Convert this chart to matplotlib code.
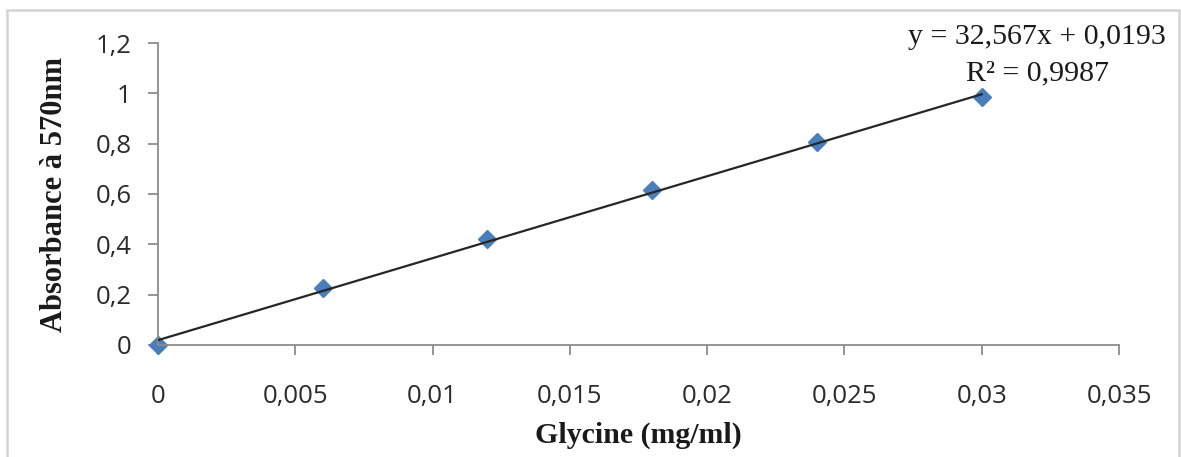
import numpy as np
import matplotlib.pyplot as plt
from matplotlib.patches import Rectangle
from matplotlib.ticker import FuncFormatter

# data
glycine = [0, 0.006, 0.012, 0.018, 0.024, 0.03]
absorbance = [0, 0.225, 0.42, 0.615, 0.805, 0.985]
slope = 32.567
intercept = 0.0193
x_ticks = [0, 0.005, 0.01, 0.015, 0.02, 0.025, 0.03, 0.035]
y_ticks = [0, 0.2, 0.4, 0.6, 0.8, 1.0, 1.2]
eq_lines = ['y = 32,567x + 0,0193', 'R² = 0,9987']

fig = plt.figure(figsize=(11.81, 4.57), dpi=100)
ax = fig.add_axes([158/1181, 1-345/457, (1119-158)/1181, (345-43)/457])

# outer chart frame
fig.patches.append(Rectangle((7/1181, -0.1), 1172/1181, 1.078, transform=fig.transFigure,
                             fill=False, edgecolor='#d4d4d4', lw=1.8))

ax.plot(glycine, absorbance, linestyle='none', marker='D', markersize=9.5,
        color='#4a7ebb', zorder=2, clip_on=False)
xfit = np.array([glycine[0], glycine[-1]])
ax.plot(xfit, slope*xfit + intercept, color='#262626', lw=1.6, zorder=3)

ax.set_xlim(0, 0.035)
ax.set_ylim(0, 1.2)
ax.set_xticks(x_ticks)
ax.set_yticks(y_ticks)

def comma(v, pos):
    s = ('%.3f' % v).rstrip('0').rstrip('.')
    return s.replace('.', ',')

ax.xaxis.set_major_formatter(FuncFormatter(comma))
ax.yaxis.set_major_formatter(FuncFormatter(comma))

for side in ['top', 'right']:
    ax.spines[side].set_visible(False)
for side in ['left', 'bottom']:
    ax.spines[side].set_color('#8c8c8c')
    ax.spines[side].set_linewidth(1.3)

ax.tick_params(axis='both', direction='out', length=7, width=1.3, color='#8c8c8c',
               labelcolor='#2b2b2b', labelsize=18.5)
ax.tick_params(axis='x', pad=21)
ax.tick_params(axis='y', pad=12)
for lab in ax.get_xticklabels() + ax.get_yticklabels():
    lab.set_fontfamily('Open Sans')

ax.set_xlabel('Glycine (mg/ml)', fontfamily='Liberation Serif', fontweight='bold',
              fontsize=21.5, color='#1a1a1a', labelpad=9)
ax.set_ylabel('Absorbance à 570nm', fontfamily='Liberation Serif', fontweight='bold',
              fontsize=22, color='#1a1a1a', labelpad=19)

fig.text(1037/1181, 1-44/457, eq_lines[0], ha='center', va='baseline',
         fontfamily='Liberation Serif', fontsize=21.5, color='#1a1a1a')
fig.text(1038/1181, 1-80/457, eq_lines[1], ha='center', va='baseline',
         fontfamily='Liberation Serif', fontsize=21.5, color='#1a1a1a')

fig.savefig('out.png', dpi=100)
